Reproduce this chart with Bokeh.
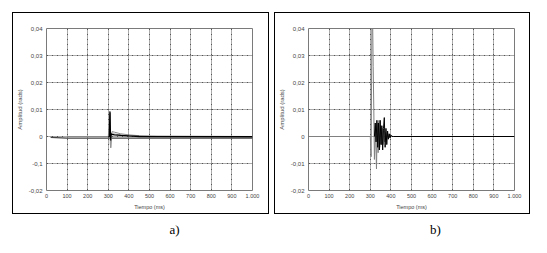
from bokeh.plotting import figure
from bokeh.models import Range1d, FixedTicker, Label, Spacer
from bokeh.layouts import row, column
from bokeh.embed import file_html
from bokeh.resources import INLINE

# ---------------- data ----------------
x_ticks = [0, 100, 200, 300, 400, 500, 600, 700, 800, 900, 1000]
x_tick_labels = ["0", "100", "200", "300", "400", "500", "600", "700", "800", "900", "1.000"]
y_ticks = [-0.02, -0.01, 0.0, 0.01, 0.02, 0.03, 0.04]
y_tick_labels_a = ["-0,02", "-0,1", "0", "0,01", "0,02", "0,03", "0,04"]
y_tick_labels_b = ["-0,02", "-0,01", "0", "0,01", "0,02", "0,03", "0,04"]
x_label = "Tiempo (ms)"
y_label = "Amplitud (rads)"
panel_tags = ["a)", "b)"]

# panel a)
a_base_t = [20, 100, 300, 1000]
a_base_y = [-0.0003, -0.0006, -0.0006, -0.0006]
a_gray1_t = [100, 300, 306, 309, 312, 318, 330, 360, 400, 450, 500, 540, 1000]
a_gray1_y = [0.0, 0.0, 0.0, 0.0088, -0.0042, 0.0018, 0.0016, 0.0010, 0.0006, 0.0003, 0.0001, 0.0, 0.0]
a_gray2_t = [300, 307, 310, 313, 320, 350, 400, 450, 1000]
a_gray2_y = [0.0, 0.0080, -0.0030, 0.0012, 0.0010, 0.0007, 0.0004, 0.0002, 0.0]
a_black_t = [300, 305, 308, 311, 314, 318, 330, 360, 400, 450, 1000]
a_black_y = [-0.0002, 0.0, 0.0093, -0.0015, 0.0010, 0.0008, 0.0006, 0.0004, 0.0002, 0.0, -0.0001]

# panel b)
b_gray_t = [0, 300, 304, 308, 311, 314, 317, 320, 325, 330, 334, 338, 342, 346, 350,
            354, 358, 362, 366, 370, 375, 380, 385, 390, 400, 410, 1000]
b_gray_y = [0.0, 0.0, -0.0075, 0.045, 0.045, 0.026, 0.010, -0.0085, 0.004, -0.012, 0.005,
            -0.006, 0.006, -0.004, 0.004, -0.003, 0.003, -0.003, 0.002, -0.002, 0.0015,
            -0.001, 0.001, -0.0005, 0.0003, 0.0, 0.0]
b_black_t = [320, 324, 328, 332, 336, 340, 344, 348, 352, 356, 360, 364, 368, 372, 376,
             380, 384, 388, 392, 396, 400, 405, 412, 1000]
b_black_y = [0.0, 0.005, -0.002, 0.006, -0.004, 0.005, -0.005, 0.006, -0.003, 0.004,
             -0.005, 0.003, 0.007, -0.004, 0.003, -0.003, 0.002, -0.001, 0.001, -0.0005,
             0.0005, 0.0, 0.0, 0.0]

TXT = "#444444"


def make_panel(width, height, left, right, ylabels):
    p = figure(width=width, height=height, x_range=Range1d(0, 1000), y_range=Range1d(-0.02, 0.04),
               output_backend="svg", toolbar_location=None,
               min_border_left=left, min_border_right=right,
               min_border_top=15, min_border_bottom=23)
    p.background_fill_color = "white"
    p.border_fill_color = "white"
    p.outline_line_color = "#7a7a7a"
    p.outline_line_width = 1

    for ax in (p.xaxis[0], p.yaxis[0]):
        ax.major_tick_in = 0
        ax.major_tick_out = 0
        ax.minor_tick_in = 0
        ax.minor_tick_out = 0
        ax.axis_line_color = None
        ax.major_label_text_font = "Liberation Sans"
        ax.major_label_text_color = TXT
        ax.axis_label_text_font = "Liberation Sans"
        ax.axis_label_text_font_style = "normal"
        ax.axis_label_text_color = TXT

    p.xaxis.ticker = FixedTicker(ticks=x_ticks)
    p.xaxis.major_label_overrides = {t: l for t, l in zip(x_ticks, x_tick_labels)}
    p.xaxis.major_label_text_font_size = "5.5px"
    p.xaxis.major_label_standoff = 3
    p.xaxis.axis_label = x_label
    p.xaxis.axis_label_text_font_size = "5.5px"
    p.xaxis.axis_label_standoff = 3

    p.yaxis.ticker = FixedTicker(ticks=y_ticks)
    p.yaxis.major_label_overrides = {t: l for t, l in zip(y_ticks, ylabels)}
    p.yaxis.major_label_text_font_size = "6px"
    p.yaxis.major_label_standoff = 4
    p.yaxis.axis_label = y_label
    p.yaxis.axis_label_text_font_size = "6px"
    p.yaxis.axis_label_standoff = 3

    p.grid.grid_line_color = "#555555"
    p.grid.grid_line_dash = "2 1 1 1"
    p.grid.grid_line_width = 1
    return p


def boxed(fig, w, h):
    blk = {"background-color": "black"}
    return column(
        Spacer(width=w + 2, height=1, styles=blk),
        row(Spacer(width=1, height=h, styles=blk), fig, Spacer(width=1, height=h, styles=blk)),
        Spacer(width=w + 2, height=1, styles=blk),
    )


# panel a: canvas origin (13,13), frame at x 44..252, y 28..190
pa = make_panel(255, 200, 31, 16, y_tick_labels_a)
pa.line(a_base_t, a_base_y, line_color="#444444", line_width=1.2)
pa.line(a_gray1_t, a_gray1_y, line_color="#8a8a8a", line_width=1)
pa.line(a_gray2_t, a_gray2_y, line_color="#9a9a9a", line_width=1)
pa.line(a_black_t, a_black_y, line_color="black", line_width=1.3)

# panel b: canvas origin (275,13), frame at x 306..514, y 28..190
pb = make_panel(254, 200, 31, 15, y_tick_labels_b)
pb.line(b_gray_t, b_gray_y, line_color="#808080", line_width=1)
pb.line(b_black_t, b_black_y, line_color="black", line_width=1)

# bottom strip with the panel tags
tags = figure(width=547, height=39, x_range=Range1d(0, 1), y_range=Range1d(0, 1),
              output_backend="svg", toolbar_location=None,
              x_axis_location=None, y_axis_location=None, min_border=0)
tags.outline_line_color = None
tags.background_fill_color = "white"
tags.border_fill_color = "white"
tags.grid.visible = False
for tag, cx in zip(panel_tags, [174, 435]):
    tags.add_layout(Label(x=cx, y=24, x_units="screen", y_units="screen", text=tag,
                          text_font="Liberation Serif", text_font_size="13px",
                          text_align="center", text_baseline="middle", text_color="black"))

layout = column(
    Spacer(width=547, height=12),
    row(Spacer(width=12, height=202), boxed(pa, 255, 200), Spacer(width=5, height=202), boxed(pb, 254, 200)),
    tags,
)
open("out.html", "w").write(file_html(layout, INLINE))
